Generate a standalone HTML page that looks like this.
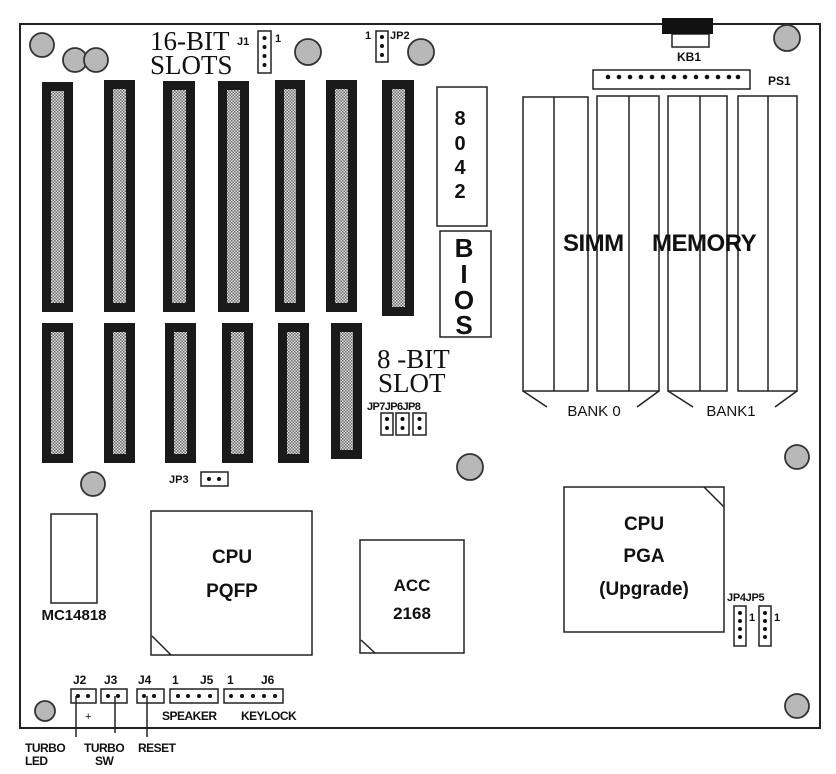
<!DOCTYPE html>
<html><head><meta charset="utf-8"><style>
html,body{margin:0;padding:0;background:#fff;}
svg{display:block;}
.s{font-family:"Liberation Sans",sans-serif;font-weight:bold;fill:#111;}
.r{font-family:"Liberation Serif",serif;fill:#111;}
</style></head><body>
<svg width="836" height="774" viewBox="0 0 836 774" xmlns="http://www.w3.org/2000/svg">
<defs>
<pattern id="dot" width="3" height="3" patternUnits="userSpaceOnUse">
<rect width="3" height="3" fill="#e4e4e4"/><rect width="1.5" height="1.5" fill="#666"/><rect x="1.5" y="1.5" width="1.5" height="1.5" fill="#666"/>
</pattern>
</defs>
<rect x="20" y="24" width="800" height="704" fill="none" stroke="#222" stroke-width="2"/>
<g fill="#b8b8b8" stroke="#333" stroke-width="1.8">
<circle cx="42" cy="45" r="12"/><circle cx="75" cy="60" r="12"/><circle cx="96" cy="60" r="12"/>
<circle cx="308" cy="52" r="13"/><circle cx="421" cy="52" r="13"/><circle cx="787" cy="38" r="13"/>
<circle cx="470" cy="467" r="13"/><circle cx="797" cy="457" r="12"/><circle cx="93" cy="484" r="12"/>
<circle cx="45" cy="711" r="10"/><circle cx="797" cy="706" r="12"/>
</g>
<g>
<rect x="42" y="82" width="31" height="230" fill="#1a1a1a"/><rect x="51" y="91" width="13" height="212" fill="url(#dot)"/>
<rect x="104" y="80" width="31" height="232" fill="#1a1a1a"/><rect x="113" y="89" width="13" height="214" fill="url(#dot)"/>
<rect x="163" y="81" width="32" height="231" fill="#1a1a1a"/><rect x="172" y="90" width="14" height="213" fill="url(#dot)"/>
<rect x="218" y="81" width="31" height="231" fill="#1a1a1a"/><rect x="227" y="90" width="13" height="213" fill="url(#dot)"/>
<rect x="275" y="80" width="30" height="232" fill="#1a1a1a"/><rect x="284" y="89" width="12" height="214" fill="url(#dot)"/>
<rect x="326" y="80" width="31" height="232" fill="#1a1a1a"/><rect x="335" y="89" width="13" height="214" fill="url(#dot)"/>
<rect x="382" y="80" width="32" height="236" fill="#1a1a1a"/><rect x="392" y="89" width="13" height="218" fill="url(#dot)"/>

<rect x="42" y="323" width="31" height="140" fill="#1a1a1a"/><rect x="51" y="332" width="13" height="122" fill="url(#dot)"/>
<rect x="104" y="323" width="31" height="140" fill="#1a1a1a"/><rect x="113" y="332" width="13" height="122" fill="url(#dot)"/>
<rect x="165" y="323" width="31" height="140" fill="#1a1a1a"/><rect x="174" y="332" width="13" height="122" fill="url(#dot)"/>
<rect x="222" y="323" width="31" height="140" fill="#1a1a1a"/><rect x="231" y="332" width="13" height="122" fill="url(#dot)"/>
<rect x="278" y="323" width="31" height="140" fill="#1a1a1a"/><rect x="287" y="332" width="13" height="122" fill="url(#dot)"/>
<rect x="331" y="323" width="31" height="136" fill="#1a1a1a"/><rect x="340" y="332" width="13" height="118" fill="url(#dot)"/>
</g>
<g fill="none" stroke="#222" stroke-width="1.5">
<rect x="437" y="87" width="50" height="139"/>
<rect x="440" y="231" width="51" height="106"/>
<rect x="523" y="97" width="65" height="294"/><line x1="554" y1="97" x2="554" y2="391"/>
<rect x="597" y="96" width="62" height="295"/><line x1="629" y1="96" x2="629" y2="391"/>
<rect x="668" y="96" width="59" height="295"/><line x1="700" y1="96" x2="700" y2="391"/>
<rect x="738" y="96" width="59" height="295"/><line x1="768" y1="96" x2="768" y2="391"/>
<polyline points="523,391 547,407"/><polyline points="637,407 659,391"/>
<polyline points="668,391 693,407"/><polyline points="775,407 797,391"/>
<rect x="672" y="34" width="37" height="13"/>
<rect x="593" y="70" width="157" height="19"/>
<rect x="258" y="31" width="13" height="42"/>
<rect x="376" y="31" width="12" height="31"/>
<rect x="381" y="413" width="12" height="22"/><rect x="396" y="413" width="13" height="22"/><rect x="413" y="413" width="13" height="22"/>
<rect x="201" y="472" width="27" height="14"/>
<rect x="51" y="514" width="46" height="89"/>
<rect x="151" y="511" width="161" height="144"/><line x1="152" y1="636" x2="171" y2="655"/>
<rect x="360" y="540" width="104" height="113"/><line x1="361" y1="640" x2="375" y2="653"/>
<rect x="564" y="487" width="160" height="145"/><line x1="704" y1="487" x2="724" y2="507"/>
<rect x="734" y="606" width="12" height="40"/><rect x="759" y="606" width="12" height="40"/>
<rect x="71" y="689" width="25" height="14"/><rect x="101" y="689" width="26" height="14"/><rect x="137" y="689" width="27" height="14"/>
<rect x="170" y="689" width="48" height="14"/><rect x="224" y="689" width="59" height="14"/>
<line x1="76" y1="696" x2="76" y2="737"/><line x1="115" y1="696" x2="115" y2="733"/><line x1="147" y1="696" x2="147" y2="737"/>
</g>
<rect x="662" y="18" width="51" height="16" fill="#111"/>
<g fill="#111">
<circle cx="608" cy="77" r="2.3"/><circle cx="619" cy="77" r="2.3"/><circle cx="630" cy="77" r="2.3"/><circle cx="641" cy="77" r="2.3"/><circle cx="652" cy="77" r="2.3"/><circle cx="663" cy="77" r="2.3"/><circle cx="674" cy="77" r="2.3"/><circle cx="685" cy="77" r="2.3"/><circle cx="696" cy="77" r="2.3"/><circle cx="707" cy="77" r="2.3"/><circle cx="718" cy="77" r="2.3"/><circle cx="729" cy="77" r="2.3"/><circle cx="738" cy="77" r="2.3"/>
<circle cx="264.5" cy="38" r="2"/><circle cx="264.5" cy="47" r="2"/><circle cx="264.5" cy="56" r="2"/><circle cx="264.5" cy="65" r="2"/>
<circle cx="382" cy="37" r="2"/><circle cx="382" cy="46" r="2"/><circle cx="382" cy="55" r="2"/>
<circle cx="387" cy="419" r="2"/><circle cx="387" cy="428" r="2"/><circle cx="402.5" cy="419" r="2"/><circle cx="402.5" cy="428" r="2"/><circle cx="419.5" cy="419" r="2"/><circle cx="419.5" cy="428" r="2"/>
<circle cx="209" cy="479" r="2"/><circle cx="219" cy="479" r="2"/>
<circle cx="740" cy="613" r="2"/><circle cx="740" cy="621" r="2"/><circle cx="740" cy="629" r="2"/><circle cx="740" cy="637" r="2"/>
<circle cx="765" cy="613" r="2"/><circle cx="765" cy="621" r="2"/><circle cx="765" cy="629" r="2"/><circle cx="765" cy="637" r="2"/>
<circle cx="78" cy="696" r="2"/><circle cx="88" cy="696" r="2"/>
<circle cx="108" cy="696" r="2"/><circle cx="118" cy="696" r="2"/>
<circle cx="144" cy="696" r="2"/><circle cx="154" cy="696" r="2"/>
<circle cx="178" cy="696" r="2"/><circle cx="188" cy="696" r="2"/><circle cx="199" cy="696" r="2"/><circle cx="210" cy="696" r="2"/>
<circle cx="231" cy="696" r="2"/><circle cx="242" cy="696" r="2"/><circle cx="253" cy="696" r="2"/><circle cx="264" cy="696" r="2"/><circle cx="275" cy="696" r="2"/>
</g>
<text class="r" x="150" y="50" font-size="27">16-BIT</text>
<text class="r" x="150" y="74" font-size="27">SLOTS</text>
<text class="r" x="377" y="368" font-size="27">8 -BIT</text>
<text class="r" x="378" y="392" font-size="27">SLOT</text>
<g class="s" font-size="11">
<text x="237" y="45">J1</text><text x="275" y="42">1</text>
<text x="365" y="39">1</text><text x="390" y="39">JP2</text>
<text x="677" y="61" font-size="12">KB1</text>
<text x="768" y="85" font-size="12">PS1</text>
<text x="367" y="410" letter-spacing="-0.6">JP7JP6JP8</text>
<text x="169" y="483">JP3</text>
<text x="727" y="601" letter-spacing="-0.3">JP4JP5</text>
<text x="749" y="621">1</text><text x="774" y="621">1</text>
<text x="73" y="684" font-size="12">J2</text><text x="104" y="684" font-size="12">J3</text><text x="138" y="684" font-size="12">J4</text>
<text x="172" y="684" font-size="12">1</text><text x="200" y="684" font-size="12">J5</text>
<text x="227" y="684" font-size="12">1</text><text x="261" y="684" font-size="12">J6</text>
<text x="85" y="720" font-weight="normal">+</text>
<text x="162" y="720" font-size="12" letter-spacing="-0.5">SPEAKER</text>
<text x="241" y="720" font-size="12" letter-spacing="-0.5">KEYLOCK</text>
<text x="25" y="752" font-size="12" letter-spacing="-0.5">TURBO</text><text x="25" y="765" font-size="12" letter-spacing="-0.5">LED</text>
<text x="84" y="752" font-size="12" letter-spacing="-0.5">TURBO</text><text x="95" y="765" font-size="12" letter-spacing="-0.5">SW</text>
<text x="138" y="752" font-size="12" letter-spacing="-0.5">RESET</text>
</g>
<text class="s" x="563" y="251" font-size="24" letter-spacing="-0.5">SIMM</text>
<text class="s" x="652" y="251" font-size="24" letter-spacing="-0.5">MEMORY</text>
<g class="s" text-anchor="middle">
<text x="460" y="125" font-size="20">8</text><text x="460" y="150" font-size="20">0</text><text x="460" y="174" font-size="20">4</text><text x="460" y="198" font-size="20">2</text>
<text x="464" y="257" font-size="26">B</text><text x="464" y="283" font-size="26">I</text><text x="464" y="309" font-size="26">O</text><text x="464" y="334" font-size="26">S</text>
<text x="594" y="416" font-size="15" font-weight="normal">BANK 0</text>
<text x="731" y="416" font-size="15" font-weight="normal">BANK1</text>
<text x="74" y="620" font-size="15">MC14818</text>
<text x="232" y="563" font-size="19">CPU</text><text x="232" y="597" font-size="19">PQFP</text>
<text x="412" y="591" font-size="17">ACC</text><text x="412" y="619" font-size="17">2168</text>
<text x="644" y="530" font-size="19">CPU</text><text x="644" y="562" font-size="19">PGA</text><text x="644" y="595" font-size="19">(Upgrade)</text>
</g>
</svg>
</body></html>
